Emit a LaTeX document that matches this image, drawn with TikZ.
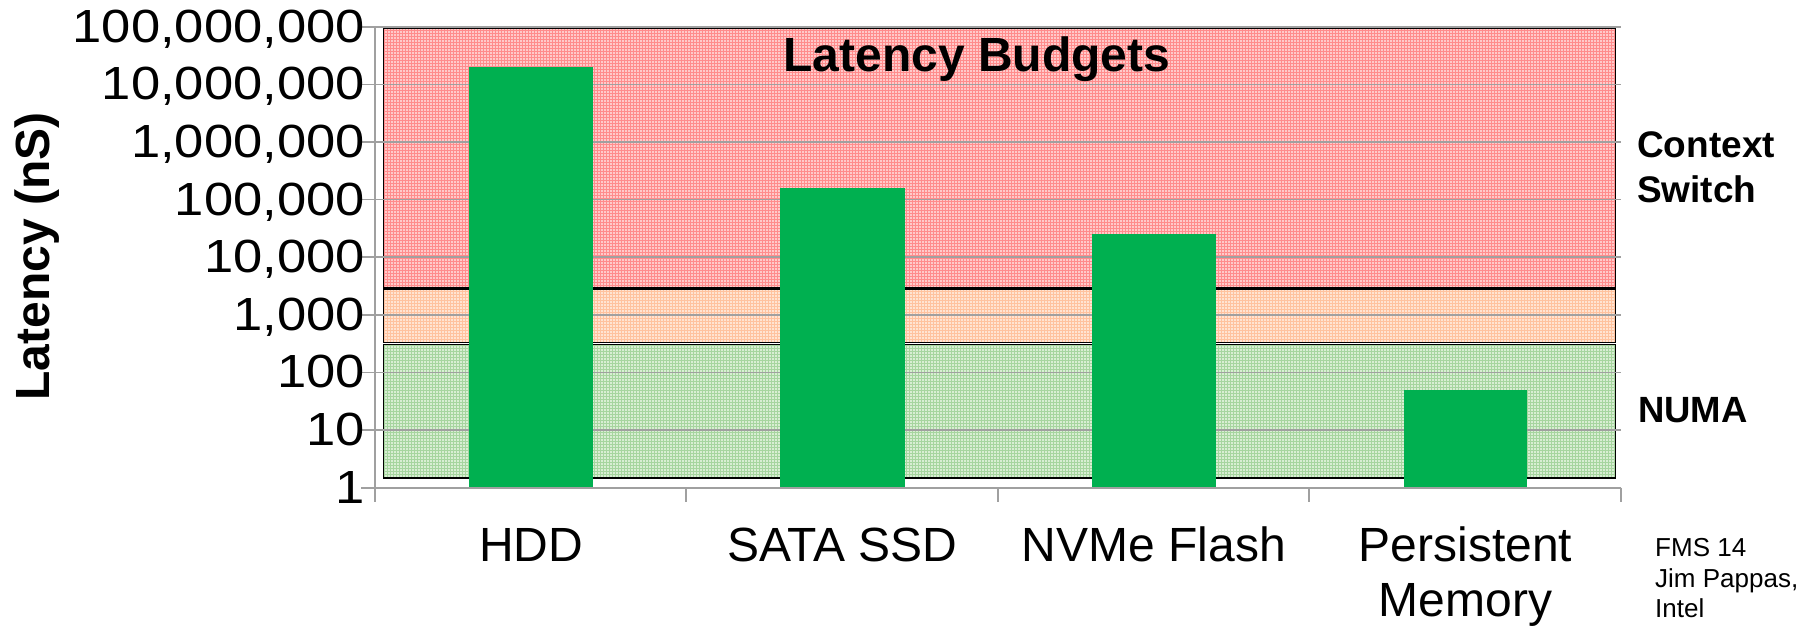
\documentclass[tikz,border=0pt]{standalone}
\usepackage{fontspec}
\setmainfont{Liberation Sans}
\newfontfamily\axisfont[FakeStretch=1.13]{Liberation Sans}
\definecolor{barg}{HTML}{00B050}
\definecolor{gridc}{HTML}{A0A0A0}
\definecolor{redbase}{HTML}{FFCACA}
\definecolor{redline}{HTML}{FF8C8C}
\definecolor{orbase}{HTML}{FFE4D2}
\definecolor{orline}{HTML}{FFC29E}
\definecolor{grbase}{HTML}{D8EED3}
\definecolor{grline}{HTML}{A6D59F}
\begin{document}
\begin{tikzpicture}[x=1pt,y=-1pt,
  ylab/.style={anchor=base east,inner sep=0pt,font=\axisfont\fontsize{46.5}{55}\selectfont},
  catlab/.style={anchor=base,inner sep=0pt,align=center,font=\fontsize{48}{55}\selectfont},
  boldlab/.style={inner sep=0pt,font=\bfseries\fontsize{48}{55}\selectfont},
  sidelab/.style={anchor=base west,inner sep=0pt,align=left,font=\bfseries\fontsize{37}{45}\selectfont},
  notelab/.style={anchor=base west,inner sep=0pt,align=left,font=\fontsize{26}{30.5}\selectfont},
  bandedge/.style={draw=black,line width=1.6pt},
  gridline/.style={draw=gridc,line width=1.6pt},
  axisline/.style={draw=gridc,line width=2pt},
  bar/.style={fill=barg}]
\useasboundingbox (0,0) rectangle (1797,625);
\fill[white] (0,0) rectangle (1797,625);

% latency budget bands: cross-hatched fill with a black frame
\foreach \top/\bot/\base/\ln in {28.3/287.5/redbase/redline,289/342.5/orbase/orline,344.5/478/grbase/grline}{
  \begin{scope}
    \clip (383.5,\top) rectangle (1615.5,\bot);
    \fill[\base] (383.5,\top) rectangle (1615.5,\bot);
    \draw[\ln,line width=0.9pt,step=3pt] (383.5,\top) grid (1615.5,\bot);
  \end{scope}
  \draw[bandedge] (383.5,\top) rectangle (1615.5,\bot);
}

% decade gridlines
\foreach \k in {1,...,8}
  \draw[gridline] (361,{487.7-57.625*\k}) -- (1620.6,{487.7-57.625*\k});

% bars
\fill[bar] (468.8,487.7) rectangle (593.2,66.7);
\fill[bar] (779.9,487.7) rectangle (904.6,188);
\fill[bar] (1091.8,487.7) rectangle (1216.3,234.3);
\fill[bar] (1403.7,487.7) rectangle (1527.4,390);

% axes and category ticks
\draw[axisline] (361,487.7) -- (1620.6,487.7);
\draw[axisline] (375,26.7) -- (375,501.7);
\foreach \x in {686.2,997.8,1309.4,1620.6}
  \draw[axisline] (\x,487.7) -- (\x,501.7);

% value axis labels
\node[ylab] (y0) at (365,{487.7+15.5}) {1};
\node[ylab] (y1) at (365,{487.7-57.625*1+15.5}) {10};
\node[ylab] (y2) at (365,{487.7-57.625*2+15.5}) {100};
\node[ylab] (y3) at (365,{487.7-57.625*3+15.5}) {1,000};
\node[ylab] (y4) at (365,{487.7-57.625*4+15.5}) {10,000};
\node[ylab] (y5) at (365,{487.7-57.625*5+15.5}) {100,000};
\node[ylab] (y6) at (365,{487.7-57.625*6+15.5}) {1,000,000};
\node[ylab] (y7) at (365,{487.7-57.625*7+15.5}) {10,000,000};
\node[ylab] (y8) at (365,{487.7-57.625*8+15.5}) {100,000,000};

\node[boldlab,anchor=base,rotate=90] (ytitle) at (49.8,256.5) {Latency (nS)};

% category labels
\node[catlab] (hdd) at (531,561) {HDD};
\node[catlab] (sata) at (842.3,561) {SATA SSD};
\node[catlab] (nvme) at (1154,561) {NVMe Flash};
\node[catlab] (pmem) at (1465.5,616) {Persistent\\Memory};

% titles and band names
\node[boldlab,anchor=base] (title) at (977,71) {Latency Budgets};
\node[sidelab] (ctx) at (1637,202.7) {Context\\Switch};
\node[sidelab,font=\bfseries\fontsize{36.5}{45}\selectfont] (numa) at (1637.8,422.7) {NUMA};

% source note
\node[notelab] (src) at (1655,617.7) {FMS 14\\Jim Pappas,\\Intel};
\end{tikzpicture}
\end{document}
